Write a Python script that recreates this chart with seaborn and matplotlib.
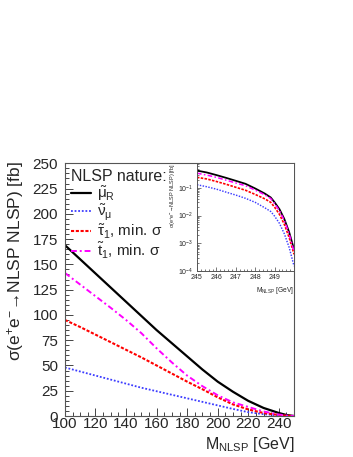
import matplotlib
matplotlib.use('Agg')
import matplotlib.pyplot as plt
import seaborn as sns
from matplotlib.ticker import MultipleLocator, LogLocator, NullFormatter

# main panel: cross section vs NLSP mass [fb]
mass = [100, 110, 120, 130, 140, 150, 160, 170, 180, 190, 200, 210, 220, 230, 240, 245, 250]
xs_smuon = [169, 155, 141, 127, 113, 99, 85, 72, 59, 46, 34, 24, 15, 8, 3, 1, 0]
xs_sneutrino = [48, 44, 40, 36, 32, 28, 24.5, 21, 17.5, 14, 10.5, 7, 3.8, 1.8, 0.6, 0.2, 0]
xs_stau = [95, 88, 80.5, 73, 65.5, 58, 50, 42, 34, 26.5, 18.5, 11.5, 6.5, 3, 1, 0.3, 0]
xs_stop = [141.5, 130, 118.5, 107, 95, 82, 67, 53, 40, 29.5, 20.5, 13.5, 9, 4.5, 1.5, 0.5, 0]

# inset: threshold region, log scale
mass_zoom = [245, 245.5, 246, 246.5, 247, 247.5, 248, 248.5, 248.8, 249, 249.25, 249.5, 249.75, 250]
zoom_smuon = [0.42, 0.36, 0.29, 0.23, 0.18, 0.14, 0.095, 0.062, 0.045, 0.03, 0.017, 0.0075, 0.0025, 0.0006]
zoom_stop = [0.34, 0.29, 0.24, 0.19, 0.15, 0.12, 0.083, 0.056, 0.041, 0.027, 0.015, 0.0066, 0.0022, 0.0005]
zoom_stau = [0.24, 0.21, 0.17, 0.135, 0.105, 0.082, 0.058, 0.04, 0.03, 0.02, 0.011, 0.0048, 0.0016, 0.0004]
zoom_sneutrino = [0.13, 0.11, 0.09, 0.07, 0.055, 0.042, 0.03, 0.019, 0.014, 0.0095, 0.0052, 0.0022, 0.0007, 0.00015]

labels = [r'$\tilde{\mu}_R$', r'$\tilde{\nu}_\mu$', r'$\tilde{\tau}_1$, min. σ', r'$\tilde{t}_1$, min. σ']
colors = ['black', '#3c3cff', '#ff0000', '#ff00ff']
styles = ['-', (0, (1, 1)), (0, (1.5, 0.8)), (0, (3, 1.5, 1, 1.5))]
widths = [1.6, 1.3, 1.5, 1.4]

sns.set_theme(style='white')
plt.rcParams['font.family'] = ['Liberation Sans', 'DejaVu Sans']
plt.rcParams['mathtext.fontset'] = 'custom'
plt.rcParams['mathtext.rm'] = 'Liberation Sans'
plt.rcParams['mathtext.it'] = 'Liberation Sans'
plt.rcParams['mathtext.bf'] = 'Liberation Sans:bold'

fig = plt.figure(figsize=(3.53, 4.57), dpi=100)
ax = fig.add_axes([0.184, 0.0897, 0.649, 0.553])

for ys, lab, c, ls, lw in zip([xs_smuon, xs_sneutrino, xs_stau, xs_stop], labels, colors, styles, widths):
    sns.lineplot(x=mass, y=ys, ax=ax, color=c, linestyle=ls, linewidth=lw, label=lab)

ax.set_xlim(100, 250)
ax.set_ylim(0, 250)
ax.xaxis.set_major_locator(MultipleLocator(20))
ax.xaxis.set_minor_locator(MultipleLocator(5))
ax.yaxis.set_major_locator(MultipleLocator(25))
ax.yaxis.set_minor_locator(MultipleLocator(5))
ax.tick_params(which='both', direction='in', left=True, bottom=True, top=False, right=False,
               color='#444444', width=0.7)
ax.tick_params(which='major', length=6, labelsize=11)
ax.tick_params(which='minor', length=3)
ax.tick_params(axis='x', pad=1)
ax.tick_params(axis='y', pad=5)
for sp in ax.spines.values():
    sp.set_color('#555555')
    sp.set_linewidth(0.8)

ax.set_xlabel(r'M$_{\rm NLSP}$ [GeV]', fontsize=11.5, loc='right')
ax.xaxis.set_label_coords(1.0, -0.075)
ax.set_ylabel('σ(e$^{+}$e$^{-}$→NLSP NLSP) [fb]', fontsize=12.5, loc='top')
ax.yaxis.set_label_coords(-0.17, 1.01)

ax.legend(title='NLSP nature:', loc='upper left', bbox_to_anchor=(0.0, 1.0), frameon=False,
          fontsize=11, title_fontsize=11.5, alignment='left', handlelength=1.3,
          handletextpad=0.4, labelspacing=-0.02, borderpad=0.4, borderaxespad=0.0)

# inset
axi = fig.add_axes([0.558, 0.407, 0.275, 0.236])
axi.set_facecolor('white')
for ys, c, ls, lw in zip([zoom_smuon, zoom_sneutrino, zoom_stau, zoom_stop], colors, styles, widths):
    sns.lineplot(x=mass_zoom, y=ys, ax=axi, color=c, linestyle=ls, linewidth=lw * 0.8)
axi.set_yscale('log')
axi.set_xlim(245, 250)
axi.set_ylim(1e-4, 0.78)
axi.xaxis.set_minor_locator(MultipleLocator(0.2))
axi.yaxis.set_major_locator(LogLocator(base=10, numticks=10))
axi.yaxis.set_minor_locator(LogLocator(base=10, subs=range(2, 10), numticks=10))
axi.yaxis.set_minor_formatter(NullFormatter())
axi.set_xticks([245, 246, 247, 248, 249])
axi.set_xticklabels(['245', '246', '247', '248', '249'])
axi.tick_params(which='both', direction='in', left=True, bottom=True, top=False, right=False,
                color='#444444', width=0.5, labelsize=5)
axi.tick_params(which='major', length=3)
axi.tick_params(which='minor', length=1.5)
axi.tick_params(axis='x', pad=2)
axi.tick_params(axis='y', pad=3)
for sp in axi.spines.values():
    sp.set_color('#555555')
    sp.set_linewidth(0.7)
axi.set_xlabel(r'M$_{\rm NLSP}$ [GeV]', fontsize=4.8, loc='right')
axi.xaxis.set_label_coords(1.0, -0.13)
axi.set_ylabel('σ(e$^{+}$e$^{-}$→NLSP NLSP) [fb]', fontsize=4, loc='top')
axi.yaxis.set_label_coords(-0.2, 1.0)
if axi.get_legend() is not None:
    axi.get_legend().remove()

fig.savefig('out.png', dpi=100)
